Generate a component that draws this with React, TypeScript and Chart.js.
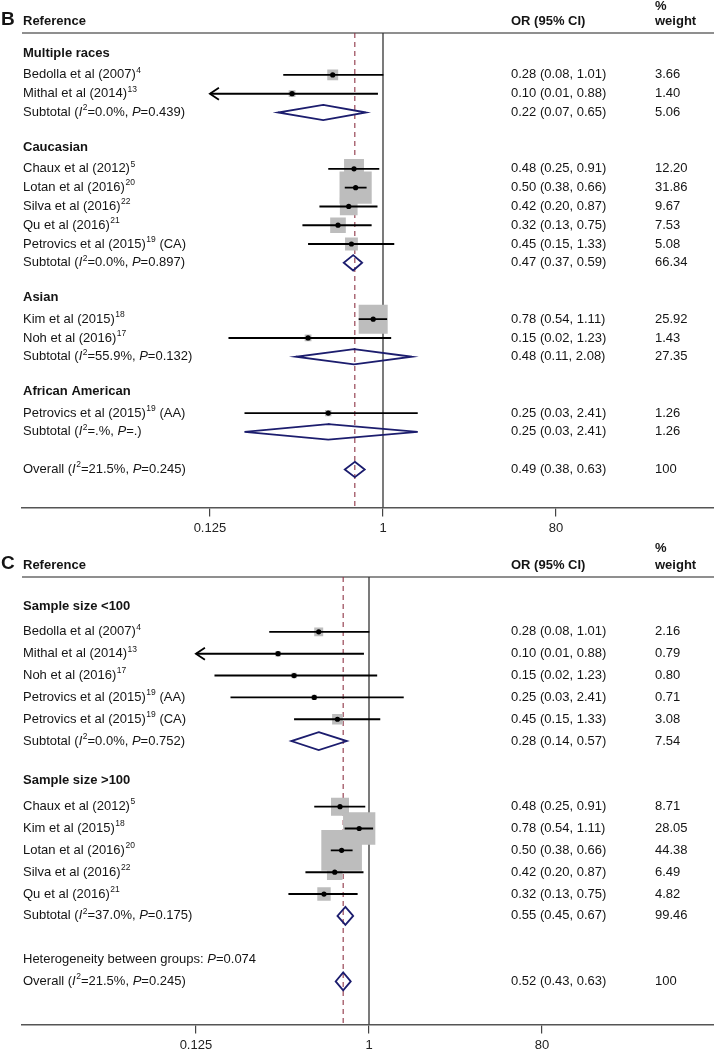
import React, { useEffect, useRef } from 'react';
import { Chart, registerables } from 'chart.js';

Chart.register(...registerables);

// ---------------- Shared data ----------------
const xTickValues = [0.0125, 1, 80];
const xTickLabels = ['0.125', '1', '80'];
const headerReference = 'Reference';
const headerOR = 'OR (95% CI)';
const headerWeight = ['%', 'weight'];

// ---------------- Panel B ----------------
const bLetter = 'B';
const bLabels = [
  'Multiple races',
  'Bedolla et al (2007)^4',
  'Mithal et al (2014)^13',
  'Subtotal (*I*^2=0.0%, *P*=0.439)',
  '',
  'Caucasian',
  'Chaux et al (2012)^5',
  'Lotan et al (2016)^20',
  'Silva et al (2016)^22',
  'Qu et al (2016)^21',
  'Petrovics et al (2015)^19 (CA)',
  'Subtotal (*I*^2=0.0%, *P*=0.897)',
  '',
  'Asian',
  'Kim et al (2015)^18',
  'Noh et al (2016)^17',
  'Subtotal (*I*^2=55.9%, *P*=0.132)',
  '',
  'African American',
  'Petrovics et al (2015)^19 (AA)',
  'Subtotal (*I*^2=.%, *P*=.)',
  '',
  'Overall (*I*^2=21.5%, *P*=0.245)',
];
const bKinds = [
  'head', 'study', 'study', 'sub', 'blank',
  'head', 'study', 'study', 'study', 'study', 'study', 'sub', 'blank',
  'head', 'study', 'study', 'sub', 'blank',
  'head', 'study', 'sub', 'blank',
  'overall',
];
const bOR = [null, 0.28, 0.10, 0.22, null, null, 0.48, 0.50, 0.42, 0.32, 0.45, 0.47, null, null, 0.78, 0.15, 0.48, null, null, 0.25, 0.25, null, 0.49];
const bLow = [null, 0.08, 0.01, 0.07, null, null, 0.25, 0.38, 0.20, 0.13, 0.15, 0.37, null, null, 0.54, 0.02, 0.11, null, null, 0.03, 0.03, null, 0.38];
const bHigh = [null, 1.01, 0.88, 0.65, null, null, 0.91, 0.66, 0.87, 0.75, 1.33, 0.59, null, null, 1.11, 1.23, 2.08, null, null, 2.41, 2.41, null, 0.63];
const bWeight = [null, 3.66, 1.40, 5.06, null, null, 12.20, 31.86, 9.67, 7.53, 5.08, 66.34, null, null, 25.92, 1.43, 27.35, null, null, 1.26, 1.26, null, 100];
const bOverall = 0.49;

// ---------------- Panel C ----------------
const cLetter = 'C';
const cLabels = [
  'Sample size <100',
  'Bedolla et al (2007)^4',
  'Mithal et al (2014)^13',
  'Noh et al (2016)^17',
  'Petrovics et al (2015)^19 (AA)',
  'Petrovics et al (2015)^19 (CA)',
  'Subtotal (*I*^2=0.0%, *P*=0.752)',
  '',
  'Sample size >100',
  'Chaux et al (2012)^5',
  'Kim et al (2015)^18',
  'Lotan et al (2016)^20',
  'Silva et al (2016)^22',
  'Qu et al (2016)^21',
  'Subtotal (*I*^2=37.0%, *P*=0.175)',
  '',
  'Heterogeneity between groups: *P*=0.074',
  'Overall (*I*^2=21.5%, *P*=0.245)',
];
const cKinds = [
  'head', 'study', 'study', 'study', 'study', 'study', 'sub', 'blank',
  'head', 'study', 'study', 'study', 'study', 'study', 'sub', 'blank',
  'note', 'overall',
];
const cOR = [null, 0.28, 0.10, 0.15, 0.25, 0.45, 0.28, null, null, 0.48, 0.78, 0.50, 0.42, 0.32, 0.55, null, null, 0.52];
const cLow = [null, 0.08, 0.01, 0.02, 0.03, 0.15, 0.14, null, null, 0.25, 0.54, 0.38, 0.20, 0.13, 0.45, null, null, 0.43];
const cHigh = [null, 1.01, 0.88, 1.23, 2.41, 1.33, 0.57, null, null, 0.91, 1.11, 0.66, 0.87, 0.75, 0.67, null, null, 0.63];
const cWeight = [null, 2.16, 0.79, 0.80, 0.71, 3.08, 7.54, null, null, 8.71, 28.05, 44.38, 6.49, 4.82, 99.46, null, null, 100];
const cOverall = 0.52;

// ---------------- Styling / layout ----------------
const FONT = '"Liberation Sans", Arial, Helvetica, sans-serif';
const TEXT_SIZE = 13;
const PX_PER_LN = 39.5;
const AREA_LEFT = 22;
const AREA_RIGHT = 714;
const TICK_LEN = 9;
const TICK_PAD = 4;
const AXIS_H = 32;
const DIAMOND_HALF = 0.41;
const COL_OR = 511;
const COL_W = 655;
const COL_LABEL = 23;

const layoutB = { oneX: 383, row0Px: 56.2, rowPx: 18.81, axisPx: 508, headerTextPx: 21, headerLinePx: 33, pctPx: 6, boxScale: 5.7, headOffset: -3, top: 0 };
const layoutC = { oneX: 369, row0Px: 70.1, rowPx: 21.875, axisPx: 485, headerTextPx: 25, headerLinePx: 37, pctPx: 8, boxScale: 6.1, headOffset: -4, top: 540 };

type Panel = {
  letter: string; labels: string[]; kinds: string[];
  or: (number | null)[]; low: (number | null)[]; high: (number | null)[]; weight: (number | null)[];
  overall: number;
};

const panelB: Panel = { letter: bLetter, labels: bLabels, kinds: bKinds, or: bOR, low: bLow, high: bHigh, weight: bWeight, overall: bOverall };
const panelC: Panel = { letter: cLetter, labels: cLabels, kinds: cKinds, or: cOR, low: cLow, high: cHigh, weight: cWeight, overall: cOverall };

function fontStr(size: number, bold: boolean, italic: boolean) {
  return `${italic ? 'italic ' : ''}${bold ? 'bold ' : ''}${size}px ${FONT}`;
}

function drawRich(ctx: CanvasRenderingContext2D, s: string, x: number, y: number, bold: boolean) {
  let italic = false;
  let cx = x;
  let i = 0;
  ctx.textBaseline = 'middle';
  ctx.textAlign = 'left';
  while (i < s.length) {
    const ch = s[i];
    if (ch === '*') { italic = !italic; i++; continue; }
    if (ch === '^') {
      i++;
      let sup = '';
      while (i < s.length && /[0-9]/.test(s[i])) { sup += s[i]; i++; }
      ctx.font = fontStr(8.5, bold, false);
      ctx.fillText(sup, cx + 0.5, y - 4.5);
      cx += ctx.measureText(sup).width + 0.5;
      continue;
    }
    let run = '';
    while (i < s.length && s[i] !== '*' && s[i] !== '^') { run += s[i]; i++; }
    ctx.font = fontStr(TEXT_SIZE, bold, italic);
    ctx.fillText(run, cx, y);
    cx += ctx.measureText(run).width;
  }
}

function fmt(v: number) { return v.toFixed(2); }

function makeChart(canvas: HTMLCanvasElement, p: Panel, L: typeof layoutB) {
  const xMin = Math.exp((AREA_LEFT - L.oneX) / PX_PER_LN);
  const xMax = Math.exp((AREA_RIGHT - L.oneX) / PX_PER_LN);
  const rowOf = (px: number) => (px - L.row0Px) / L.rowPx;
  const yMin = rowOf(0);
  const yMax = rowOf(L.axisPx);
  const axisMin = xTickValues[0];
  const axisMax = xTickValues[xTickValues.length - 1];
  const lineTop = rowOf(L.headerLinePx);

  const boxes: any[] = [];
  const dots: any[] = [];
  const cis: any[] = [];
  const diamonds: any[] = [];
  const arrows: { x: number; y: number; dir: number }[] = [];

  p.kinds.forEach((k, i) => {
    const o = p.or[i], lo = p.low[i], hi = p.high[i], w = p.weight[i];
    if (k === 'study' && o != null && lo != null && hi != null && w != null) {
      boxes.push({ x: o, y: i, w });
      dots.push({ x: o, y: i });
      cis.push({ x: Math.max(lo, axisMin), y: i }, { x: Math.min(hi, axisMax), y: i }, { x: NaN, y: NaN });
      if (lo < axisMin) arrows.push({ x: axisMin, y: i, dir: -1 });
      if (hi > axisMax) arrows.push({ x: axisMax, y: i, dir: 1 });
    } else if ((k === 'sub' || k === 'overall') && o != null && lo != null && hi != null) {
      diamonds.push(
        { x: o, y: i - DIAMOND_HALF }, { x: hi, y: i }, { x: o, y: i + DIAMOND_HALF },
        { x: lo, y: i }, { x: o, y: i - DIAMOND_HALF }, { x: hi, y: i }, { x: NaN, y: NaN }
      );
    }
  });

  const plugin = {
    id: 'forestText',
    beforeDraw(chart: any) {
      const ctx = chart.ctx as CanvasRenderingContext2D;
      ctx.save();
      ctx.fillStyle = '#ffffff';
      ctx.fillRect(0, 0, chart.width, chart.height);
      ctx.restore();
    },
    beforeDatasetsDraw(chart: any) {
      const ctx = chart.ctx as CanvasRenderingContext2D;
      const ys = chart.scales.y;
      const yy = ys.getPixelForValue(lineTop);
      ctx.save();
      ctx.strokeStyle = '#6a6a6a';
      ctx.lineWidth = 1.5;
      ctx.beginPath();
      ctx.moveTo(chart.chartArea.left, yy);
      ctx.lineTo(chart.chartArea.right, yy);
      ctx.stroke();
      ctx.restore();
    },
    afterDatasetsDraw(chart: any) {
      const ctx = chart.ctx as CanvasRenderingContext2D;
      const xs = chart.scales.x, ys = chart.scales.y;
      ctx.save();
      ctx.strokeStyle = '#000';
      ctx.lineWidth = 1.8;
      arrows.forEach((a) => {
        const px = xs.getPixelForValue(a.x), py = ys.getPixelForValue(a.y);
        ctx.beginPath();
        ctx.moveTo(px - a.dir * 9, py - 6);
        ctx.lineTo(px, py);
        ctx.lineTo(px - a.dir * 9, py + 6);
        ctx.stroke();
      });
      ctx.restore();
    },
    afterDraw(chart: any) {
      const ctx = chart.ctx as CanvasRenderingContext2D;
      const ys = chart.scales.y;
      ctx.save();
      ctx.fillStyle = '#141414';
      const hy = ys.getPixelForValue(rowOf(L.headerTextPx));
      ctx.font = fontStr(19, true, false);
      ctx.textBaseline = 'middle';
      ctx.fillText(p.letter, 1, hy - 1);
      drawRich(ctx, headerReference, COL_LABEL, hy, true);
      drawRich(ctx, headerOR, COL_OR, hy, true);
      drawRich(ctx, headerWeight[0], COL_W, ys.getPixelForValue(rowOf(L.pctPx)), true);
      drawRich(ctx, headerWeight[1], COL_W, hy, true);
      p.labels.forEach((lab, i) => {
        const k = p.kinds[i];
        if (k === 'blank') return;
        let py = ys.getPixelForValue(i);
        if (k === 'head') py += L.headOffset;
        drawRich(ctx, lab, COL_LABEL, py, k === 'head');
        const o = p.or[i], lo = p.low[i], hi = p.high[i], w = p.weight[i];
        if (o != null && lo != null && hi != null) {
          drawRich(ctx, `${fmt(o)} (${fmt(lo)}, ${fmt(hi)})`, COL_OR, py, false);
        }
        if (w != null) {
          drawRich(ctx, w === 100 ? '100' : fmt(w), COL_W, py, false);
        }
      });
      ctx.restore();
    },
  };

  return new Chart(canvas, {
    type: 'scatter',
    data: {
      datasets: [
        {
          data: dots, pointStyle: 'circle', pointRadius: 2.6, backgroundColor: '#000', borderWidth: 0, order: 0,
        } as any,
        {
          data: cis, showLine: true, borderColor: '#000', borderWidth: 1.9, pointRadius: 0, spanGaps: false, order: 1,
        } as any,
        {
          data: boxes, pointStyle: 'rect', backgroundColor: '#bdbdbd', borderWidth: 0, order: 2,
          pointRadius: (c: any) => (c.raw && c.raw.w ? (L.boxScale * Math.sqrt(c.raw.w)) / Math.SQRT2 : 0),
        } as any,
        {
          data: diamonds, showLine: true, borderColor: '#1c1d6e', borderWidth: 1.8, pointRadius: 0, spanGaps: false,
          borderJoinStyle: 'miter', order: 3,
        } as any,
        {
          data: [{ x: p.overall, y: lineTop }, { x: p.overall, y: yMax }], showLine: true, borderColor: '#8e3445',
          borderWidth: 1.1, borderDash: [5, 4], pointRadius: 0, order: 4,
        } as any,
        {
          data: [{ x: 1, y: lineTop }, { x: 1, y: yMax }], showLine: true, borderColor: '#333',
          borderWidth: 1.3, pointRadius: 0, order: 5,
        } as any,
      ],
    },
    options: {
      responsive: false,
      animation: false,
      events: [],
      layout: { autoPadding: false, padding: { left: AREA_LEFT, right: 0, top: 0, bottom: 0 } },
      plugins: { legend: { display: false }, tooltip: { enabled: false } },
      scales: {
        x: {
          type: 'logarithmic',
          min: xMin,
          max: xMax,
          bounds: 'data',
          afterBuildTicks: (scale: any) => { scale.ticks = xTickValues.map((v) => ({ value: v })); },
          ticks: {
            autoSkip: false, maxRotation: 0, padding: TICK_PAD, color: '#222',
            font: { family: FONT, size: TEXT_SIZE },
            callback: (_v: any, idx: number) => xTickLabels[idx],
          },
          grid: { display: true, drawOnChartArea: false, drawTicks: true, tickLength: TICK_LEN, color: '#444', lineWidth: 1.2 },
          border: { display: true, color: '#555', width: 1.5 },
        },
        y: {
          type: 'linear', display: false, reverse: true, min: yMin, max: yMax,
        },
      },
    } as any,
    plugins: [plugin as any],
  });
}

export default function App() {
  const bRef = useRef<HTMLCanvasElement>(null);
  const cRef = useRef<HTMLCanvasElement>(null);
  useEffect(() => {
    document.body.style.margin = '0';
    const charts = [
      makeChart(bRef.current as HTMLCanvasElement, panelB, layoutB),
      makeChart(cRef.current as HTMLCanvasElement, panelC, layoutC),
    ];
    return () => charts.forEach((c) => c.destroy());
  }, []);
  const hB = Math.round(layoutB.axisPx + AXIS_H);
  const hC = Math.round(layoutC.axisPx + AXIS_H);
  return (
    <div style={{ position: 'relative', width: 714, height: 1049, overflow: 'hidden', background: '#fff' }}>
      <canvas ref={bRef} width={714} height={hB} style={{ position: 'absolute', left: 0, top: layoutB.top }} />
      <canvas ref={cRef} width={714} height={hC} style={{ position: 'absolute', left: 0, top: layoutC.top }} />
    </div>
  );
}
